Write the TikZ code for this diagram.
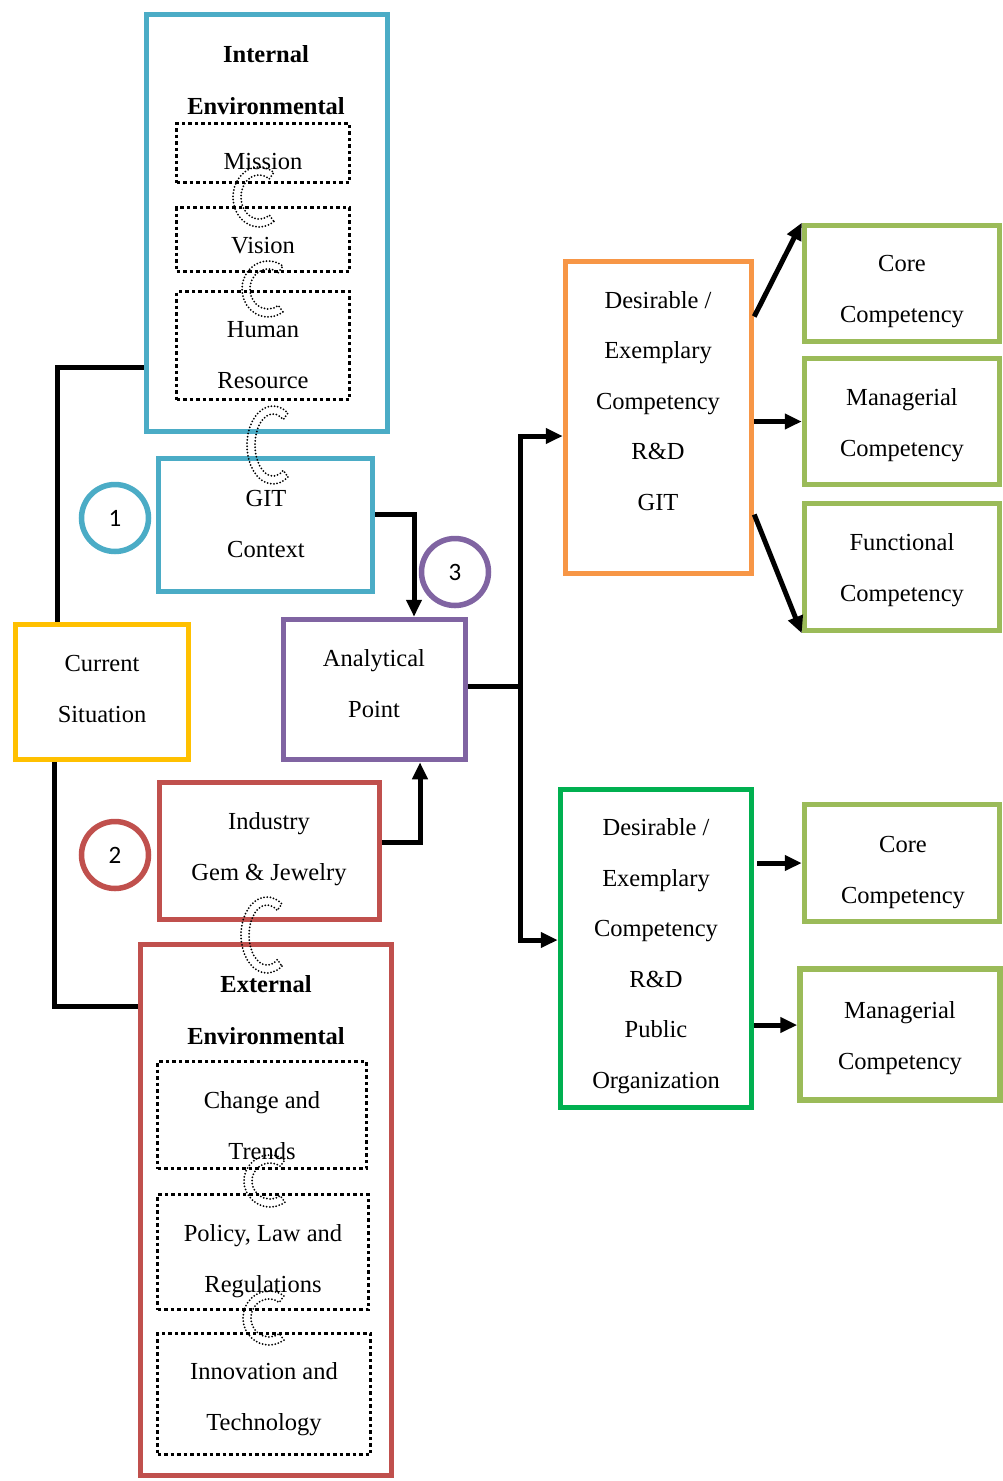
\documentclass[tikz,border=0pt]{standalone}
\usepackage{fontspec}
\setmainfont{Liberation Serif}
\newfontfamily\numfont{Carlito}
\usetikzlibrary{arrows.meta}

\definecolor{cyanc}{HTML}{4BACC6}
\definecolor{goldc}{HTML}{FFC000}
\definecolor{purplec}{HTML}{8064A2}
\definecolor{redc}{HTML}{C0504D}
\definecolor{orangec}{HTML}{F79646}
\definecolor{olivec}{HTML}{9BBB59}
\definecolor{greenc}{HTML}{00B050}

\tikzset{
  frame/.style={draw=#1, line width=5.5pt, inner sep=0pt},
  dotbox/.style={draw=black, line width=3.5pt, dash pattern=on 3.5pt off 3pt, inner sep=0pt},
  % multi-line labels are placed by the baseline of their last line
  lbl/.style={align=center, inner sep=0pt, anchor=base,
    font=\fontsize{24.5}{50.5}\selectfont},
  ttl/.style={lbl, font=\fontsize{24.5}{51.5}\selectfont\bfseries},
  badge/.style={circle, draw=#1, line width=5.5pt, minimum size=67pt, inner sep=0pt,
    font=\numfont\fontsize{25}{30}\selectfont},
  conn/.style={line width=5pt, line join=miter},
  arr/.style={conn, -{Triangle[length=17pt,width=15pt]}},
  curlline/.style={line width=2pt, dash pattern=on 0pt off 3.2pt, line cap=round}
}

% dotted C-shaped link between two stacked boxes: centre x, centre y, x radius, y radius
\newcommand\curllink[4]{%
  \draw[curlline, shift={(#1,#2)}]
    (55:#3 and #4) arc[start angle=55, end angle=305, x radius=#3, y radius=#4]
    -- (305:{#3-8} and {#4-8})
    arc[start angle=305, end angle=55, x radius=#3-8, y radius=#4-8] -- cycle;}

\begin{document}
\begin{tikzpicture}[x=1pt, y=-1pt]
\useasboundingbox (0,0) rectangle (1003,1481);

% internal environment
\node[frame=cyanc, minimum width=241pt, minimum height=417pt] (int) at (267,223) {};
\node[ttl] (intT) at (266,114) {Internal\\Environmental};
\node[dotbox, minimum width=173pt, minimum height=59pt] (mis) at (263,153) {};
\node[lbl] (misT) at (263,169) {Mission};
\node[dotbox, minimum width=173pt, minimum height=64pt] (vis) at (263,239.5) {};
\node[lbl] (visT) at (263,253) {Vision};
\node[dotbox, minimum width=173pt, minimum height=108pt] (hum) at (263,345.5) {};
\node[lbl] (humT) at (263,388) {Human\\Resource};

% context boxes
\node[frame=cyanc, minimum width=214pt, minimum height=133pt] (git) at (265.5,525) {};
\node[lbl] (gitT) at (266,557) {GIT\\Context};
\node[frame=goldc, minimum width=173pt, minimum height=135pt] (cur) at (102,692) {};
\node[lbl] (curT) at (102,722) {Current\\Situation};
\node[frame=purplec, minimum width=182pt, minimum height=140pt] (ana) at (374.5,689.5) {};
\node[lbl] (anaT) at (374,717) {Analytical\\Point};
\node[frame=redc, minimum width=220pt, minimum height=137pt] (ind) at (269.5,851) {};
\node[lbl] (indT) at (269,880) {Industry\\Gem \& Jewelry};

% external environment
\node[frame=redc, minimum width=251pt, minimum height=531pt] (ext) at (266,1210) {};
\node[ttl] (extT) at (266,1044) {External\\Environmental};
\node[dotbox, minimum width=209pt, minimum height=107pt] (chg) at (262,1115) {};
\node[lbl] (chgT) at (262,1159) {Change and\\Trends};
\node[dotbox, minimum width=211pt, minimum height=115pt] (pol) at (263,1252) {};
\node[lbl] (polT) at (263,1292) {Policy, Law and\\Regulations};
\node[dotbox, minimum width=213pt, minimum height=121pt] (inn) at (264,1394) {};
\node[lbl] (innT) at (264,1430) {Innovation and\\Technology};

% step badges
\node[badge=cyanc] (b1) at (115,518) {1};
\node[badge=redc] (b2) at (115,855) {2};
\node[badge=purplec] (b3) at (455,572) {3};

% desirable competencies
\node[frame=orangec, minimum width=186pt, minimum height=312pt] (org) at (658.5,417.5) {};
\node[lbl] (orgT) at (658,510) {Desirable /\\Exemplary\\Competency\\R\&D\\GIT};
\node[frame=greenc, minimum width=191pt, minimum height=318pt] (grn) at (656,948.5) {};
\node[lbl] (grnT) at (656,1088) {Desirable /\\Exemplary\\Competency\\R\&D\\Public\\Organization};

\node[frame=olivec, minimum width=195pt, minimum height=116pt] (cc1) at (902,283.5) {};
\node[lbl] (cc1T) at (902,322) {Core\\Competency};
\node[frame=olivec, minimum width=195pt, minimum height=126pt] (mc1) at (902,421.5) {};
\node[lbl] (mc1T) at (902,456) {Managerial\\Competency};
\node[frame=olivec, minimum width=195pt, minimum height=127pt] (fc1) at (902,567) {};
\node[lbl] (fc1T) at (902,601) {Functional\\Competency};
\node[frame=olivec, minimum width=195pt, minimum height=117pt] (cc2) at (902,863) {};
\node[lbl] (cc2T) at (903,903) {Core\\Competency};
\node[frame=olivec, minimum width=200pt, minimum height=131pt] (mc2) at (900,1034.5) {};
\node[lbl] (mc2T) at (900,1069) {Managerial\\Competency};

% bend points
\coordinate (j1) at (57,367);
\coordinate (j2) at (54,1006);
\coordinate (j3) at (414,514);
\coordinate (j4) at (420,842);
\coordinate (j5) at (520,686);
\coordinate (j6) at (520,436);
\coordinate (j7) at (520,940);

% connectors
\draw[conn] (int.west |- j1) -- (j1) -- (cur.north -| j1);
\draw[conn] (cur.south -| j2) -- (j2) -- (ext.west |- j2);
\draw[arr] (git.east |- j3) -- (j3) -- (ana.north -| j3);
\draw[arr] (ind.east |- j4) -- (j4) -- (ana.south -| j4);
\draw[conn] (ana.east |- j5) -- (j5);
\draw[arr] (j5) -- (j6) -- (org.west |- j6);
\draw[arr] (j5) -- (j7) -- (grn.west |- j7);
\draw[arr] ([yshift=101pt]org.east) -- (cc1.north west);
\draw[arr] (org.east |- mc1.west) -- (mc1.west);
\draw[arr] ([yshift=-97pt]org.east) -- (fc1.south west);
\draw[arr] ([xshift=3pt]grn.east |- cc2.west) -- (cc2.west);
\draw[arr] (grn.east |- 0,1025) -- (mc2.west |- 0,1025);

% dotted C links
\curllink{259}{197}{26}{30}
\curllink{268}{289}{26}{28}
\curllink{273}{445}{26}{39}
\curllink{267}{935}{26}{38}
\curllink{270}{1181}{26}{26}
\curllink{269}{1318}{26}{27}
\end{tikzpicture}
\end{document}
